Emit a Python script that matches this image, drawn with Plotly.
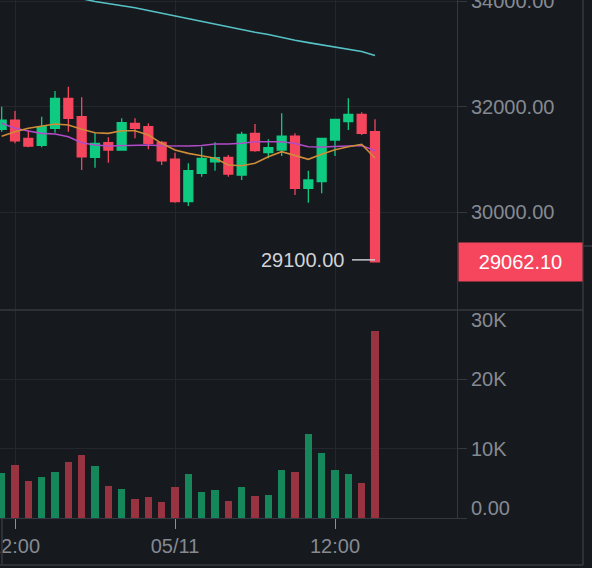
import pandas as pd
import plotly.graph_objects as go

# ---------------- data ----------------
start_time = "2022-05-10 11:00"
n_candles = 29
times = pd.date_range(start_time, periods=n_candles, freq="h")

opens = [31572, 31748, 31402, 31269, 31591, 32159, 31811, 31042, 31318, 31180,
         31686, 31621, 31326, 31009, 30201, 30739, 30958, 31042, 30706, 31496,
         31129, 31180, 31445, 30455, 30580, 31369, 31716, 31856, 31527]
highs = [32000, 31919, 31559, 31811, 32297, 32379, 32178, 31508, 31420, 31780,
         31780, 31686, 31350, 31129, 30928, 31242, 31326, 31085, 31527, 31672,
         31383, 31875, 31496, 30788, 31402, 31761, 32159, 31894, 31761]
lows = [31527, 31307, 31233, 31231, 31508, 31527, 30801, 30845, 30939, 31167,
        31401, 31193, 30896, 30182, 30119, 30674, 30788, 30674, 30612, 31148,
        31023, 31066, 30328, 30182, 30360, 31066, 31559, 31464, 29062.10]
closes = [31748, 31356, 31256, 31621, 32159, 31780, 31053, 31307, 31180, 31697,
          31591, 31307, 30977, 30201, 30788, 31023, 31034, 30725, 31477, 31167,
          31224, 31445, 30455, 30612, 31402, 31761, 31856, 31496, 29062.10]
volumes = [6488, 7674, 5387, 5916, 6573, 8102, 9103, 7531, 4673, 4201,
           2772, 3001, 2286, 4430, 6388, 3815, 4101, 2386, 4430, 3101,
           3387, 6916, 6673, 12060, 9431, 6916, 6345, 5001, 26920]
ma_fast = [31441, 31527, 31591, 31634, 31672, 31653, 31572, 31508, 31496, 31545,
           31545, 31464, 31307, 31180, 31117, 31072, 31023, 30896, 30883, 30928,
           31053, 31148, 31076, 31004, 31100, 31186, 31242, 31288, 31028]
ma_mid = [31686, 31591, 31540, 31496, 31483, 31432, 31318, 31275, 31256, 31261,
          31275, 31275, 31261, 31256, 31256, 31265, 31294, 31294, 31307, 31337,
          31337, 31337, 31303, 31242, 31237, 31242, 31256, 31265, 31167]
ma_slow = [None, None, None, None, None, 34085, 34047, 33992, 33955, 33917,
           33873, 33822, 33771, 33720, 33667, 33614, 33553, 33513, 33462, 33409,
           33368, 33309, 33260, 33214, 33171, 33139, 33088, 33045, 32969]

low_marker_value = 29100.00
price_ticks = [30000, 32000, 34000]
vol_ticks = [0, 10000, 20000, 30000]
vol_tick_labels = ["0.00", "10K", "20K", "30K"]
x_ticks = ["2022-05-10 12:00", "2022-05-11 00:00", "2022-05-11 12:00"]
x_tick_labels = ["12:00", "05/11", "12:00"]

# ---------------- style ----------------
BG = "#16191e"
GRID = "#24272d"
AXIS = "#343840"
TXT = "#858a92"
GREEN = "#0ecb81"
RED = "#f6465d"
VGREEN = "#16875b"
VRED = "#983441"
FONT = "Liberation Sans, Arial, sans-serif"
FS = 20

vol_colors = [VGREEN if c >= o else VRED for o, c in zip(opens, closes)]
hour_ms = 3600 * 1000

fig = go.Figure()
fig.add_trace(go.Candlestick(
    x=times, open=opens, high=highs, low=lows, close=closes,
    xaxis="x", yaxis="y", whiskerwidth=0,
    increasing=dict(line=dict(color=GREEN, width=1.3), fillcolor=GREEN),
    decreasing=dict(line=dict(color=RED, width=1.3), fillcolor=RED),
    showlegend=False, hoverinfo="skip"))
for vals, col in [(ma_slow, "#56c2c6"), (ma_mid, "#b14bc8"), (ma_fast, "#cf8c38")]:
    fig.add_trace(go.Scatter(x=times, y=vals, mode="lines", xaxis="x", yaxis="y",
                             line=dict(color=col, width=1.6), showlegend=False,
                             hoverinfo="skip"))
fig.add_trace(go.Bar(x=times, y=volumes, xaxis="x2", yaxis="y2",
                     marker=dict(color=vol_colors, line=dict(width=0)),
                     width=[0.55 * hour_ms] * n_candles, showlegend=False,
                     hoverinfo="skip"))

t0 = times[0]
x_range = [t0 - pd.Timedelta(minutes=7.5), t0 + pd.Timedelta(hours=34.15)]
split = 0.4015

fig.update_layout(
    width=592, height=568,
    margin=dict(l=0, r=135, t=0, b=50, autoexpand=False),
    paper_bgcolor=BG, plot_bgcolor=BG,
    font=dict(family=FONT, size=FS, color=TXT),
    boxgap=0.33, boxgroupgap=0, bargap=0,
    showlegend=False,
    xaxis=dict(domain=[0, 1], anchor="y", range=x_range, tickvals=x_ticks,
               showticklabels=False, showgrid=True, gridcolor=GRID, gridwidth=1,
               zeroline=False, showline=False, ticks="", automargin=False,
               rangeslider=dict(visible=False)),
    xaxis2=dict(domain=[0, 1], anchor="y2", matches="x", range=x_range,
                tickvals=x_ticks, ticktext=x_tick_labels, showgrid=True,
                gridcolor=GRID, zeroline=False, showline=True, linecolor=AXIS,
                linewidth=1, ticks="outside", ticklen=10, tickcolor="#8a8f97",
                tickwidth=1, tickfont=dict(size=FS, color=TXT),
                ticklabeloverflow="allow", automargin=False),
    yaxis=dict(domain=[split, 1], anchor="x", side="right",
               range=[28150, 34021], tickvals=price_ticks,
               ticktext=[f"{v:.2f}" for v in price_ticks], showgrid=True,
               gridcolor=GRID, zeroline=False, showline=True, linecolor=AXIS,
               ticks="outside", ticklen=9, tickcolor=AXIS,
               tickfont=dict(size=FS, color=TXT), ticklabeloverflow="allow",
               automargin=False),
    yaxis2=dict(domain=[0, split], anchor="x2", side="right",
                range=[0, 30000], tickvals=vol_ticks[:3],
                ticktext=["", vol_tick_labels[1], vol_tick_labels[2]],
                showgrid=True, gridcolor=GRID, zeroline=False, showline=True,
                linecolor=AXIS, ticks="outside", ticklen=9, tickcolor=AXIS,
                tickfont=dict(size=FS, color=TXT), ticklabeloverflow="allow",
                automargin=False),
)

# edge labels of the volume axis, pushed inside the pane
fig.add_annotation(xref="paper", yref="y2", x=1, y=vol_ticks[0], xanchor="left",
                   xshift=12, yshift=10, text=vol_tick_labels[0], showarrow=False,
                   font=dict(size=FS, color=TXT))
fig.add_annotation(xref="paper", yref="y2", x=1, y=vol_ticks[3], xanchor="left",
                   xshift=12, yshift=-10, text=vol_tick_labels[3], showarrow=False,
                   font=dict(size=FS, color=TXT))

# last price tag
fig.add_annotation(xref="paper", yref="y", x=1, y=closes[-1], xanchor="left",
                   xshift=1, text=f"{closes[-1]:.2f}", showarrow=False,
                   bgcolor=RED, width=117, height=32, borderpad=3,
                   font=dict(size=FS, color="#ffffff"))

# low marker
x_last = times[-1]
fig.add_shape(type="line", xref="x", yref="y", xsizemode="pixel", xanchor=x_last,
              x0=-23, x1=0, y0=low_marker_value, y1=low_marker_value,
              line=dict(color="#c6c9cf", width=1.5))
fig.add_annotation(xref="x", yref="y", x=x_last, y=low_marker_value,
                   xanchor="right", xshift=-29, text=f"{low_marker_value:.2f}",
                   showarrow=False, font=dict(size=FS, color="#d0d3d8"))

# frame lines
xr = 583 / 457
yb = -47 / 518
for shp in [
    dict(x0=0, x1=xr, y0=split, y1=split),
    dict(x0=xr, x1=xr, y0=yb, y1=1.01),
    dict(x0=0, x1=xr, y0=yb, y1=yb),
    dict(x0=2 / 457, x1=2 / 457, y0=0, y1=yb),
    dict(x0=xr, x1=1.4, y0=1 - 246 / 518, y1=1 - 246 / 518),
]:
    fig.add_shape(type="line", xref="paper", yref="paper",
                  line=dict(color=AXIS, width=1.5), **shp)

fig.write_html("out.html")
